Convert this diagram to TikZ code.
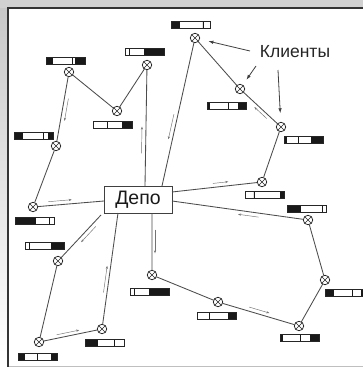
\documentclass[tikz,border=0pt]{standalone}
\usepackage{fontspec}
\setmainfont{Liberation Sans}
\usetikzlibrary{arrows.meta,calc}

% load bar: left x, top y, end of left black part, divider, start of right black part
\newcommand\cargobar[5]{%
  \fill[barink] (#1,#2) rectangle ({#1+#3*39},{#2+7});
  \fill[barink] ({#1+#5*39},#2) rectangle ({#1+39},{#2+7});
  \draw[barink,line width=0.9pt] ({#1+#4*39},#2) -- ({#1+#4*39},{#2+7});
  \draw[barline] (#1,#2) rectangle ({#1+39},{#2+7});
}
% direction mark beside an edge: from, to, start fraction, end fraction, side offset
\newcommand\flowmark[5]{%
  \draw[flow] ($(#1)!#3!(#2)!#5!90:(#2)$) -- ($(#1)!#4!(#2)!#5!90:(#2)$);
}

\begin{document}
\begin{tikzpicture}[x=1pt,y=-1pt,
  barink/.style={fill=black!90,draw=black!90},
  barline/.style={draw=black!85,line width=0.7pt},
  route/.style={draw=black!70,line width=0.85pt},
  flow/.style={draw=black!55,line width=0.45pt,-{Stealth[length=3pt,width=2.2pt]}},
  pointer/.style={draw=black!75,line width=0.8pt,-{Latex[length=5pt,width=3.5pt]}},
  client/.style={circle,draw=black!85,fill=white,line width=0.75pt,
    minimum size=9.5pt,inner sep=0pt,outer sep=0pt,
    path picture={\draw[line width=0.6pt,black!85]
      ([shift={(-3.4pt,-3.4pt)}]path picture bounding box.center) --
      ([shift={(3.4pt,3.4pt)}]path picture bounding box.center)
      ([shift={(-3.4pt,3.4pt)}]path picture bounding box.center) --
      ([shift={(3.4pt,-3.4pt)}]path picture bounding box.center);}},
  depotbox/.style={rectangle,draw=black!75,line width=0.9pt,fill=white,
    minimum width=68pt,minimum height=27pt,inner sep=0pt,
    font=\fontsize{19.5}{21}\selectfont,text=black!90},
  caption/.style={font=\fontsize{17.5}{20}\selectfont,text=black!85,inner sep=0pt}
]
\useasboundingbox (0,0) rectangle (363,367);

% page margin and frame
\shade[top color=black!22,bottom color=white] (0,0) rectangle (8,367);
\fill[black!18] (0,0) rectangle (363,8);
\fill[white] (8,8) rectangle (363,367);
\draw[black!25,line width=0.8pt] (8,366.5) -- (363,366.5);
\draw[black!80,line width=1.2pt] (8,367) -- (8,8) -- (363,8);

% depot
\node[depotbox] (depot) at (138,199.5) {Депо};
\coordinate (dC) at (145,186);
\coordinate (dE) at (162,186);
\coordinate (dH) at (172,192);
\coordinate (dN) at (172,201);
\coordinate (dM) at (152,213);
\coordinate (dL) at (118,213);
\coordinate (dJ) at (101,215);
\coordinate (dI) at (104,201);

% clients
\node[client] (A) at (69,72) {};
\node[client] (B) at (117,111) {};
\node[client] (C) at (147,65) {};
\node[client] (D) at (56,146) {};
\node[client] (E) at (195,38) {};
\node[client] (F) at (240,89) {};
\node[client] (G) at (281,127) {};
\node[client] (H) at (262,182) {};
\node[client] (I) at (33,207) {};
\node[client] (J) at (58,261) {};
\node[client] (K) at (39,342) {};
\node[client] (L) at (102,329) {};
\node[client] (M) at (152,275) {};
\node[client] (N) at (308,220) {};
\node[client] (O) at (325,280) {};
\node[client] (P) at (299,326) {};
\node[client] (Q) at (218,302) {};

% routes
\draw[route] (dC) -- (C) -- (B) -- (A) -- (D) -- (I) -- (dI);
\draw[route] (dH) -- (H) -- (G) -- (F) -- (E) -- (dE);
\draw[route] (dM) -- (M) -- (Q) -- (P) -- (O) -- (N) -- (dN);
\draw[route] (dJ) -- (J) -- (K) -- (L) -- (dL);

% travel direction marks
\flowmark{dC}{C}{0.27}{0.49}{4pt}
\flowmark{A}{D}{0.35}{0.65}{4pt}
\flowmark{I}{dI}{0.22}{0.55}{4pt}
\flowmark{dH}{H}{0.46}{0.63}{4pt}
\flowmark{G}{F}{0.29}{0.59}{3.5pt}
\flowmark{E}{dE}{0.52}{0.69}{-4pt}
\flowmark{dM}{M}{0.27}{0.65}{3pt}
\flowmark{Q}{P}{0.37}{0.62}{4pt}
\flowmark{N}{dN}{0.36}{0.51}{4pt}
\flowmark{dJ}{J}{0.19}{0.53}{4pt}
\flowmark{K}{L}{0.29}{0.65}{3.5pt}
\flowmark{L}{dL}{0.31}{0.54}{3.5pt}

% load bars
\cargobar{46}{57}{0.17}{0.68}{0.76}
\cargobar{125}{48}{0}{0.12}{0.5}
\cargobar{93}{121}{0}{0.38}{0.75}
\cargobar{14}{132}{0.2}{0.75}{0.88}
\cargobar{171}{21}{0.22}{0.82}{1}
\cargobar{207}{102}{0.05}{0.55}{0.8}
\cargobar{284}{136}{0.05}{0.38}{0.7}
\cargobar{245}{191}{0}{0.23}{0.9}
\cargobar{287}{205}{0.33}{0.9}{1}
\cargobar{325}{289}{0.22}{0.7}{0.92}
\cargobar{280}{334}{0.05}{0.52}{0.78}
\cargobar{197}{312}{0}{0.33}{0.8}
\cargobar{15}{217}{0.52}{0.88}{1}
\cargobar{25}{242}{0}{0.12}{0.68}
\cargobar{130}{288}{0}{0.12}{0.5}
\cargobar{85}{339}{0.3}{0.75}{1}
\cargobar{18}{353}{0.15}{0.5}{0.85}

% caption with pointers
\node[caption] (clients) at (295,52) {Клиенты};
\coordinate (kE) at (250,51);
\coordinate (kF) at (256,66);
\coordinate (kG) at (278,70);
\draw[pointer,shorten >=9pt] (kE) -- (E);
\draw[pointer,shorten >=6.5pt] (kF) -- (F);
\draw[pointer,shorten >=9pt] (kG) -- (G);
\end{tikzpicture}
\end{document}
